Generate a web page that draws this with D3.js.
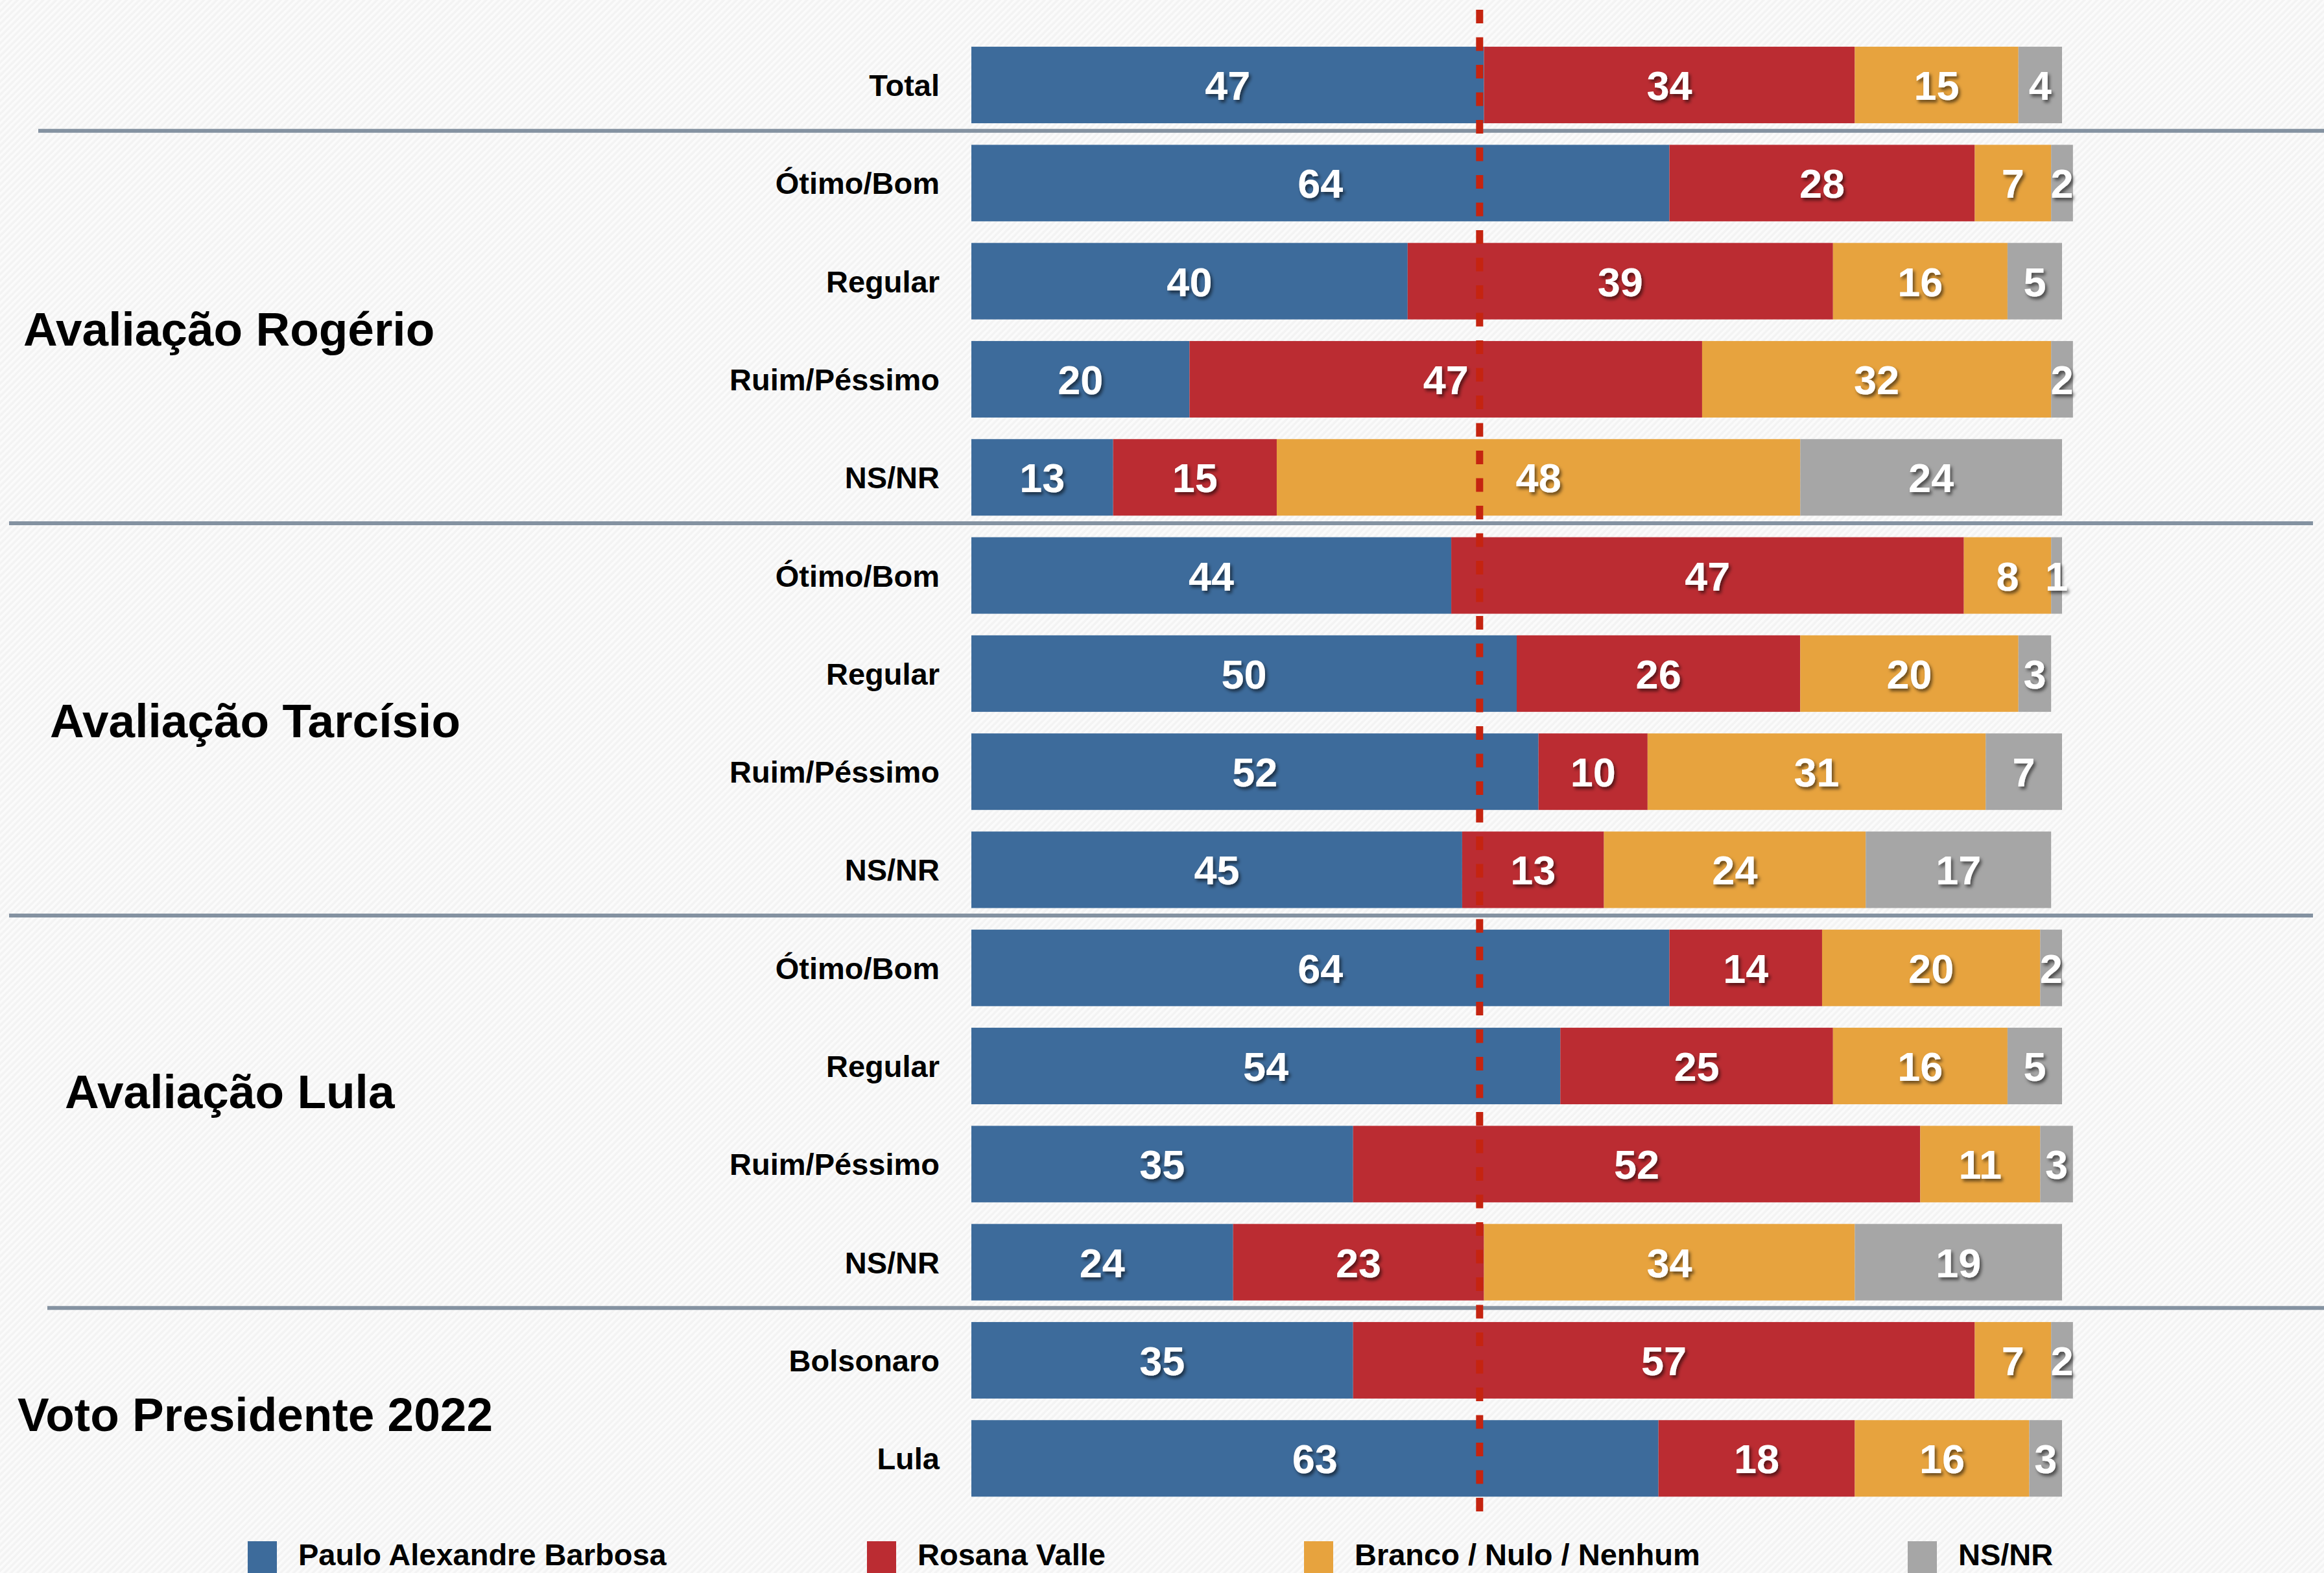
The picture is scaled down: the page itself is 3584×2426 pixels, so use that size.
<!DOCTYPE html>
<html>
<head>
<meta charset="utf-8">
<script src="https://cdn.jsdelivr.net/npm/d3@7"></script>
<style>
  html, body { margin: 0; padding: 0; background: #f5f5f5; }
  svg { display: block; }
  text { font-family: "Liberation Sans", Arial, Helvetica, sans-serif; font-weight: bold; }
</style>
</head>
<body>
<svg id="chart" width="3584" height="2426"></svg>
<script>
// ---- DATA ----
const rowLabels = ["Total",
  "Ótimo/Bom", "Regular", "Ruim/Péssimo", "NS/NR",
  "Ótimo/Bom", "Regular", "Ruim/Péssimo", "NS/NR",
  "Ótimo/Bom", "Regular", "Ruim/Péssimo", "NS/NR",
  "Bolsonaro", "Lula"];
const groupNames = ["Avaliação Rogério", "Avaliação Tarcísio", "Avaliação Lula", "Voto Presidente 2022"];
const seriesNames = ["Paulo Alexandre Barbosa", "Rosana Valle", "Branco / Nulo / Nenhum", "NS/NR"];
const paulo  = [47, 64, 40, 20, 13, 44, 50, 52, 45, 64, 54, 35, 24, 35, 63];
const rosana = [34, 28, 39, 47, 15, 47, 26, 10, 13, 14, 25, 52, 23, 57, 18];
const branco = [15,  7, 16, 32, 48,  8, 20, 31, 24, 20, 16, 11, 34,  7, 16];
const nsnr   = [ 4,  2,  5,  2, 24,  1,  3,  7, 17,  2,  5,  3, 19,  2,  3];
const referenceValue = 46.6;

// ---- STYLE / LAYOUT ----
const colors = ["#3d6b9b", "#bb2c32", "#e7a33e", "#a6a6a6"];
const W = 3584, H = 2426;
const svg = d3.select("#chart");

const defs = svg.append("defs");
const pat = defs.append("pattern").attr("id", "stripes")
  .attr("width", 7).attr("height", 7)
  .attr("patternUnits", "userSpaceOnUse")
  .attr("patternTransform", "rotate(45)");
pat.append("rect").attr("width", 7).attr("height", 7).attr("fill", "#f3f3f3");
pat.append("rect").attr("width", 3.5).attr("height", 7).attr("fill", "#fbfbfb");
const f = defs.append("filter").attr("id", "shadow")
  .attr("x", "-50%").attr("y", "-50%").attr("width", "200%").attr("height", "200%");
f.append("feDropShadow").attr("dx", 3).attr("dy", 4).attr("stdDeviation", 2.5)
  .attr("flood-color", "#000").attr("flood-opacity", 0.55);

svg.append("rect").attr("width", W).attr("height", H).attr("fill", "url(#stripes)");

const rows = rowLabels.map((label, i) => ({
  i, label, paulo: paulo[i], rosana: rosana[i], branco: branco[i], nsnr: nsnr[i]
}));
const keys = ["paulo", "rosana", "branco", "nsnr"];

const x = d3.scaleLinear().domain([0, 100]).range([1498, 3180]);
const y = d3.scaleBand().domain(d3.range(rows.length))
  .range([55.4, 2324.9]).paddingInner(0.22).paddingOuter(0.11);

const stack = d3.stack().keys(keys);
const stacked = stack(rows);

// separators
const sepDefs = [
  { after: 0, x1: 59, x2: 3584 },
  { after: 4, x1: 14, x2: 3567 },
  { after: 8, x1: 14, x2: 3567 },
  { after: 12, x1: 73, x2: 3584 }
];
svg.append("g").selectAll("line").data(sepDefs).join("line")
  .attr("x1", d => d.x1).attr("x2", d => d.x2)
  .attr("y1", d => y(d.after + 1) - y.step() * 0.11 - 5)
  .attr("y2", d => y(d.after + 1) - y.step() * 0.11 - 5)
  .attr("stroke", "#8492a1").attr("stroke-width", 6);

// bars
const barG = svg.append("g");
stacked.forEach((layer, k) => {
  barG.append("g").attr("fill", colors[k])
    .selectAll("rect").data(layer).join("rect")
    .attr("x", d => x(d[0]))
    .attr("width", d => x(d[1]) - x(d[0]))
    .attr("y", (d, i) => y(i))
    .attr("height", y.bandwidth());
});

// reference dashed line
svg.append("line")
  .attr("x1", x(referenceValue)).attr("x2", x(referenceValue))
  .attr("y1", 15).attr("y2", 2340)
  .attr("stroke", "#c52410").attr("stroke-width", 11)
  .attr("stroke-dasharray", "21 21.5");

// value labels
const valG = svg.append("g").attr("filter", "url(#shadow)");
stacked.forEach((layer, k) => {
  valG.append("g").selectAll("text").data(layer).join("text")
    .attr("x", d => x((d[0] + d[1]) / 2))
    .attr("y", (d, i) => y(i) + y.bandwidth() / 2 + 23)
    .attr("text-anchor", "middle")
    .attr("font-size", 63)
    .attr("fill", "#fff")
    .text((d, i) => rows[i][keys[k]]);
});

// row labels
svg.append("g").selectAll("text").data(rows).join("text")
  .attr("x", 1449)
  .attr("y", d => y(d.i) + y.bandwidth() / 2 + 17)
  .attr("text-anchor", "end")
  .attr("font-size", 47)
  .attr("fill", "#000")
  .text(d => d.label);

// group labels
const groupPos = [
  { x: 36, y: 533 },
  { x: 77, y: 1137 },
  { x: 100, y: 1709 },
  { x: 27, y: 2207 }
];
svg.append("g").selectAll("text").data(groupNames).join("text")
  .attr("x", (d, i) => groupPos[i].x)
  .attr("y", (d, i) => groupPos[i].y)
  .attr("font-size", 73)
  .attr("fill", "#000")
  .text(d => d);

// legend
const legX = [382, 1337, 2011, 2942];
const leg = svg.append("g").selectAll("g").data(seriesNames).join("g");
leg.append("rect")
  .attr("x", (d, i) => legX[i]).attr("y", 2377)
  .attr("width", 45).attr("height", 49)
  .attr("fill", (d, i) => colors[i]);
leg.append("text")
  .attr("x", (d, i) => legX[i] + 78).attr("y", 2414)
  .attr("font-size", 47).attr("fill", "#000")
  .text(d => d);
</script>
</body>
</html>
